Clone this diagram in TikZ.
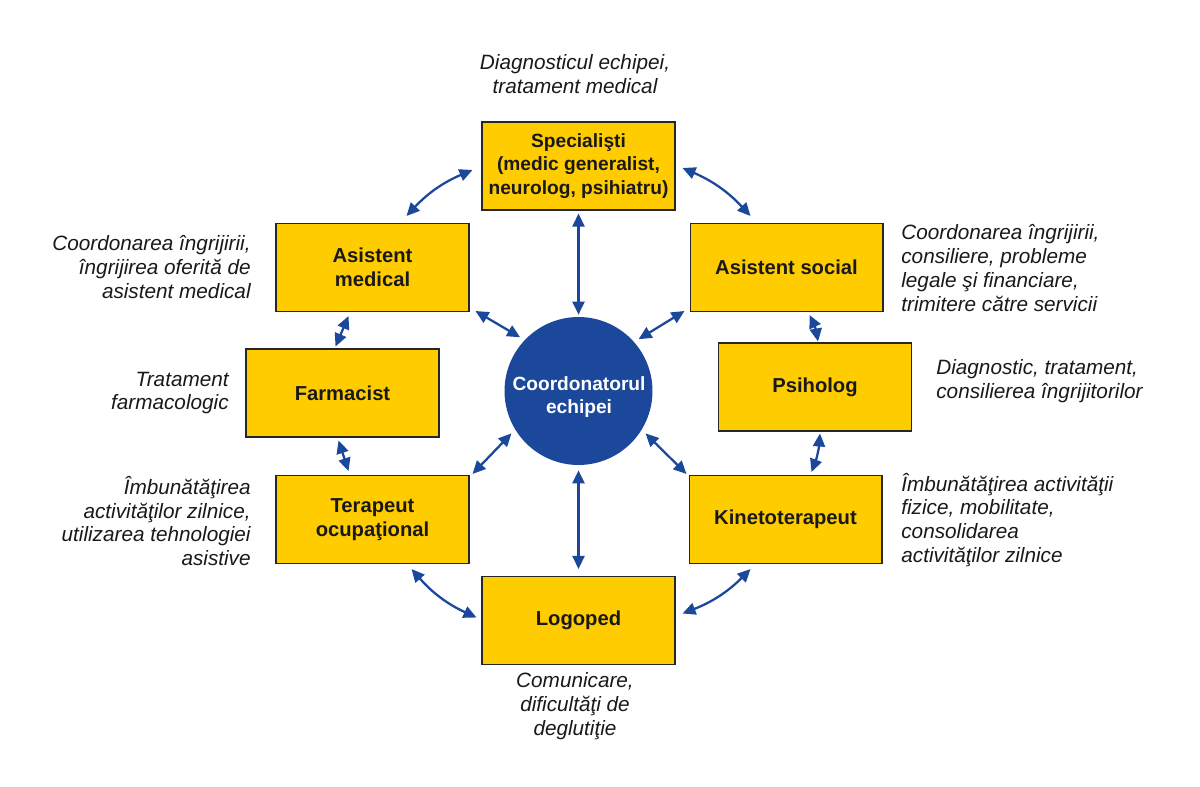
\documentclass[tikz,border=0pt]{standalone}
\usepackage{fontspec}
\setmainfont{Liberation Sans}
\usetikzlibrary{arrows.meta}
\definecolor{boxyellow}{RGB}{255,204,0}
\definecolor{teamblue}{RGB}{28,72,155}
\definecolor{txtgray}{RGB}{25,25,25}

\begin{document}
\begin{tikzpicture}[x=0.02cm,y=-0.02cm,
  role/.style={draw=black!85,line width=0.6pt,fill=boxyellow,minimum width=3.86cm,minimum height=1.76cm,
    inner xsep=0pt,align=center,text=txtgray,font=\fontsize{11.5}{13.4}\selectfont\bfseries},
  note/.style={inner sep=0pt,text=txtgray,font=\fontsize{11.8}{13.6}\selectfont\itshape},
  link/.style={teamblue,line width=1.3pt,{Triangle[length=2.6mm,width=2.4mm]}-{Triangle[length=2.6mm,width=2.4mm]}}]
\useasboundingbox (0,0) rectangle (1200,787);

% coordinator in the middle
\node[circle,fill=teamblue,minimum size=2.96cm] (coord) at (578.5,391) {};
\node[align=center,text=white,font=\fontsize{10.9}{13}\selectfont\bfseries] (coordtext) at (579,397) {Coordonatorul\\echipei};

% team members
\node[role,font=\fontsize{10.9}{13.4}\selectfont\bfseries] (spec) at (578.5,166) {Speciali\c{s}ti\\(medic generalist,\\neurolog, psihiatru)};
\node[role] (asmed) at (372.5,267.5) {Asistent\\medical};
\node[role] (assoc) at (786.5,267.5) {Asistent social};
\node[role] (farm) at (342.5,393) {Farmacist};
\node[role] (psih) at (815,387) {Psiholog};
\node[role] (terap) at (372.5,519.5) {Terapeut\\ocupaţional};
\node[role] (kineto) at (785.5,519.5) {Kinetoterapeut};
\node[role] (logo) at (578.5,620.5) {Logoped};

% what each one does
\node[note,align=center] (specnote) at (575,74) {Diagnosticul echipei,\\tratament medical};
\node[note,align=right,anchor=east] (asmednote) at (251,267) {Coordonarea îngrijirii,\\îngrijirea oferită de\\asistent medical};
\node[note,align=left,anchor=west] (assocnote) at (901,268) {Coordonarea îngrijirii,\\consiliere, probleme\\legale şi financiare,\\trimitere către servicii};
\node[note,align=right,anchor=east] (farmnote) at (229,393) {Tratament\\farmacologic};
\node[note,align=left,anchor=west] (psihnote) at (936,381) {Diagnostic, tratament,\\consilierea îngrijitorilor};
\node[note,align=right,anchor=east] (terapnote) at (251,521) {Îmbunătăţirea\\activităţilor zilnice,\\utilizarea tehnologiei\\asistive};
\node[note,align=left,anchor=west] (kinetonote) at (901,520) {Îmbunătăţirea activităţii\\fizice, mobilitate,\\consolidarea\\activităţilor zilnice};
\node[note,align=center] (logonote) at (575,706) {Comunicare,\\dificultăţi de\\deglutiţie};

% spokes to the coordinator
\draw[link] ([shift={(0,3)}]spec.south) -- ([shift={(0,-2)}]coord.north);
\draw[link] ([shift={(6,-1)}]asmed.south east) -- ([shift={(-4,-3)}]coord.137);
\draw[link] ([shift={(-5,-1)}]assoc.south west) -- ([shift={(4,-3)}]coord.41);
\draw[link] ([shift={(-4,3)}]coord.212) -- ([shift={(3,-1)}]terap.north east);
\draw[link] ([shift={(4,3)}]coord.328) -- ([shift={(-2,-1)}]kineto.north west);
\draw[link] ([shift={(0,5)}]coord.south) -- ([shift={(0,-7)}]logo.north);

% ring between the members
\draw[link] ([shift={(-9,4)}]spec.west) to[bend right=12] ([shift={(34,-7)}]asmed.north);
\draw[link] ([shift={(7,2)}]spec.east) to[bend left=12] ([shift={(-36,-7)}]assoc.north);
\draw[link] ([shift={(-24,4)}]asmed.south) -- ([shift={(-7,-2)}]farm.north);
\draw[link] ([shift={(-4,3)}]farm.south) -- ([shift={(-24,-4)}]terap.north);
\draw[link] ([shift={(23,3)}]assoc.south) to[bend left=8] ([shift={(3,-1)}]psih.north);
\draw[link] ([shift={(5,2)}]psih.south) to[bend left=8] ([shift={(26,-3)}]kineto.north);
\draw[link] ([shift={(39,5)}]terap.south) to[bend right=12] ([shift={(-5,-3)}]logo.west);
\draw[link] ([shift={(7,-7)}]logo.east) to[bend right=12] ([shift={(-35,5)}]kineto.south);
\end{tikzpicture}
\end{document}
